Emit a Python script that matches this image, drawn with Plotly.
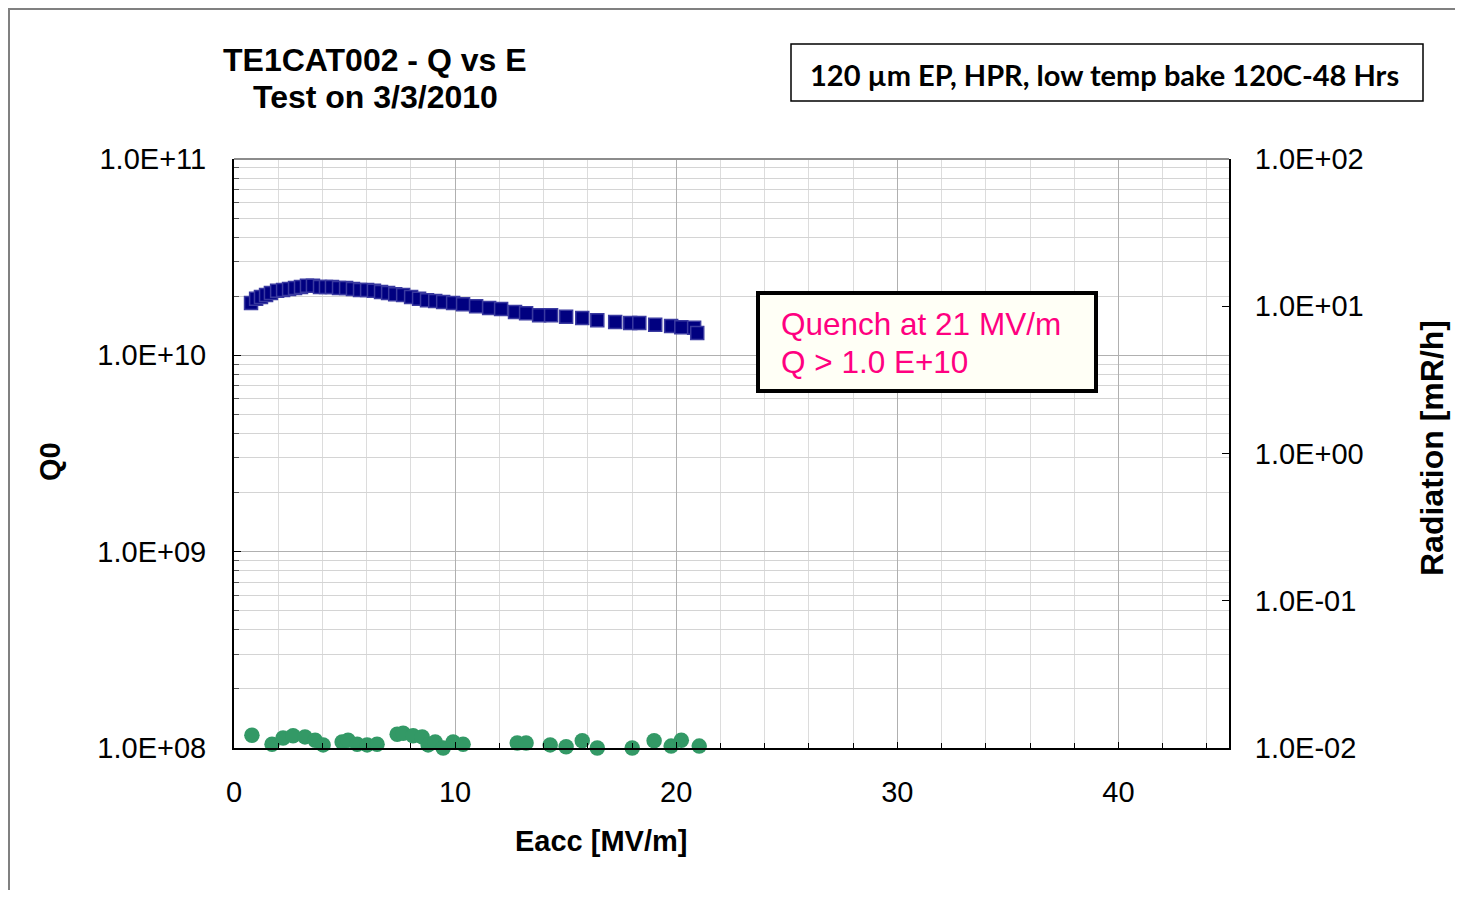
import plotly.graph_objects as go

# ---- data ----
q_eacc = [0.77, 1.00, 1.22, 1.45, 1.67, 1.95, 2.22, 2.49, 2.76, 3.03, 3.30, 3.57, 3.89, 4.16,
          4.43, 4.75, 5.07, 5.38, 5.70, 6.02, 6.33, 6.65, 6.97, 7.29, 7.65, 8.01, 8.37, 8.73,
          9.10, 9.46, 9.91, 10.36, 10.95, 11.54, 12.08, 12.71, 13.21, 13.80, 14.34, 15.02,
          15.75, 16.43, 17.24, 17.92, 18.33, 19.05, 19.77, 20.23, 20.81, 20.95]
q0 = [1.85e10, 1.94e10, 1.98e10, 2.03e10, 2.08e10, 2.13e10, 2.15e10, 2.18e10, 2.20e10, 2.23e10,
      2.26e10, 2.26e10, 2.23e10, 2.23e10, 2.23e10, 2.20e10, 2.20e10, 2.18e10, 2.15e10, 2.15e10,
      2.13e10, 2.10e10, 2.08e10, 2.05e10, 2.03e10, 1.98e10, 1.94e10, 1.91e10, 1.89e10, 1.87e10,
      1.85e10, 1.82e10, 1.78e10, 1.74e10, 1.72e10, 1.66e10, 1.64e10, 1.60e10, 1.60e10, 1.57e10,
      1.55e10, 1.51e10, 1.48e10, 1.46e10, 1.46e10, 1.43e10, 1.41e10, 1.39e10, 1.38e10, 1.30e10]

rad_eacc = [0.81, 1.72, 2.22, 2.67, 3.21, 3.35, 3.67, 4.03, 4.57, 4.89, 5.16, 5.57, 6.02, 6.47,
            7.38, 7.65, 8.10, 8.51, 8.78, 9.10, 9.46, 9.91, 10.36, 12.81, 13.21, 14.30, 15.02,
            15.75, 16.43, 18.01, 19.00, 19.77, 20.23, 20.77, 21.04]
radiation = [0.0122, 0.0106, 0.0117, 0.0121, 0.0119, 0.0098, 0.0113, 0.0105, 0.0097, 0.0110,
             0.0113, 0.0106, 0.0105, 0.0106, 0.0124, 0.0126, 0.0121, 0.0119, 0.0105, 0.0110,
             0.0100, 0.0110, 0.0106, 0.0108, 0.0108, 0.0105, 0.0102, 0.0112, 0.0100, 0.0100,
             0.0112, 0.0103, 0.0113, 0.0098, 0.0103]

q_tickvals = [1e8, 1e9, 1e10, 1e11]
q_ticktext = ["1.0E+08", "1.0E+09", "1.0E+10", "1.0E+11"]
r_tickvals = [0.01, 0.1, 1, 10, 100]
r_ticktext = ["1.0E-02", "1.0E-01", "1.0E+00", "1.0E+01", "1.0E+02"]
x_tickvals = [0, 10, 20, 30, 40]

title_lines = ["TE1CAT002 - Q vs E", "Test on 3/3/2010"]
box_text = "120 µm EP, HPR, low temp bake 120C-48 Hrs"
quench_lines = ["Quench at 21 MV/m", "Q > 1.0 E+10"]

ARIAL = "Liberation Sans, Arial"
OFF = 8  # browser body margin
W, H = 1463 - 2 * OFF, 898 - 2 * OFF
L, R, T, B = 234, 1229, 159, 748  # plot area in page pixels


def px(x):
    return (x - L) / (R - L)


def py(y):
    return (B - y) / (B - T)


q_minor = [m * 10 ** e for e in range(8, 11) for m in range(2, 10)]

fig = go.Figure()
fig.add_trace(go.Scatter(
    x=q_eacc, y=q0, mode="markers", yaxis="y",
    marker=dict(symbol="square", size=13, color="#000080",
                line=dict(color="#3a3aa0", width=1.5)),
    showlegend=False))
fig.add_trace(go.Scatter(
    x=rad_eacc, y=radiation, mode="markers", yaxis="y2", cliponaxis=False,
    marker=dict(symbol="circle", size=15.5, color="#339966", line=dict(width=0)),
    showlegend=False))

tickfont = dict(family=ARIAL, size=29, color="black")

fig.update_layout(
    width=W, height=H,
    margin=dict(l=L - OFF, r=W - (R - OFF), t=T - OFF, b=H - (B - OFF), pad=0),
    paper_bgcolor="#fdfdf4",
    plot_bgcolor="white",
    showlegend=False,
    xaxis=dict(
        range=[0, 45], tickvals=x_tickvals, ticks="inside", ticklen=6,
        tickcolor="black", tickfont=tickfont, ticklabelstandoff=17,
        showline=True, linecolor="black", linewidth=2,
        showgrid=True, gridcolor="#b0b0b0", gridwidth=1, zeroline=False,
        minor=dict(dtick=2, showgrid=True, gridcolor="#dcdcdc", ticks="inside",
                   ticklen=5, tickcolor="black"),
    ),
    yaxis=dict(
        type="log", range=[8, 11], tickvals=q_tickvals, ticktext=q_ticktext,
        ticks="inside", ticklen=7, tickcolor="black", tickfont=tickfont,
        ticklabelstandoff=20,
        showline=True, linecolor="black", linewidth=2,
        showgrid=True, gridcolor="#b0b0b0", gridwidth=1, zeroline=False,
        minor=dict(tickmode="array", tickvals=q_minor, showgrid=True,
                   gridcolor="#d4d4d4", ticks="inside", ticklen=5, tickcolor="#555555"),
    ),
    yaxis2=dict(
        type="log", range=[-2, 2], overlaying="y", side="right",
        tickvals=r_tickvals, ticktext=r_ticktext,
        ticks="inside", ticklen=7, tickcolor="black", tickfont=tickfont,
        ticklabelstandoff=18,
        showline=True, linecolor="black", linewidth=2,
        showgrid=False, zeroline=False,
    ),
)

shapes = [
    # outer chart border
    dict(type="rect", xref="paper", yref="paper", layer="below",
         x0=px(OFF + 1), x1=px(1480), y0=py(OFF + 1), y1=py(910),
         fillcolor="white", line=dict(color="#808080", width=2)),
    # top border of plot area
    dict(type="line", xref="paper", yref="paper",
         x0=0, x1=1, y0=1, y1=1, line=dict(color="#8c8c8c", width=2)),
    # description box
    dict(type="rect", xref="paper", yref="paper",
         x0=px(791), x1=px(1423), y0=py(44), y1=py(101),
         fillcolor="white", line=dict(color="black", width=1.5)),
    # quench box
    dict(type="rect", xref="paper", yref="paper",
         x0=px(758), x1=px(1096), y0=py(293), y1=py(391),
         fillcolor="#fffff6", line=dict(color="black", width=4)),
]
fig.update_layout(shapes=shapes)

ann = []
for txt, yy in zip(title_lines, [60, 97]):
    ann.append(dict(text="<b>%s</b>" % txt, x=px(375), y=py(yy), xref="paper", yref="paper",
                    xanchor="center", yanchor="middle", showarrow=False,
                    font=dict(family=ARIAL, size=32, color="black")))
ann.append(dict(text="<b>%s</b>" % box_text, x=px(1104), y=py(74), xref="paper", yref="paper",
                xanchor="center", yanchor="middle", showarrow=False,
                font=dict(family="Lato, Open Sans", size=29, color="black")))
for txt, yy in zip(quench_lines, [324, 362]):
    ann.append(dict(text=txt, x=px(779), y=py(yy), xref="paper", yref="paper",
                    xanchor="left", yanchor="middle", showarrow=False,
                    font=dict(family=ARIAL, size=31.5, color="#ff0080")))
ann.append(dict(text="<b>Eacc [MV/m]</b>", x=px(601), y=py(841), xref="paper", yref="paper",
                xanchor="center", yanchor="middle", showarrow=False,
                font=dict(family=ARIAL, size=29, color="black")))
ann.append(dict(text="<b>Q0</b>", x=px(50), y=py(462), xref="paper", yref="paper",
                xanchor="center", yanchor="middle", showarrow=False, textangle=-90,
                font=dict(family=ARIAL, size=29, color="black")))
ann.append(dict(text="<b>Radiation [mR/h]</b>", x=px(1432), y=py(448), xref="paper", yref="paper",
                xanchor="center", yanchor="middle", showarrow=False, textangle=-90,
                font=dict(family=ARIAL, size=32, color="black")))
fig.update_layout(annotations=ann)

fig.write_html("out.html")
